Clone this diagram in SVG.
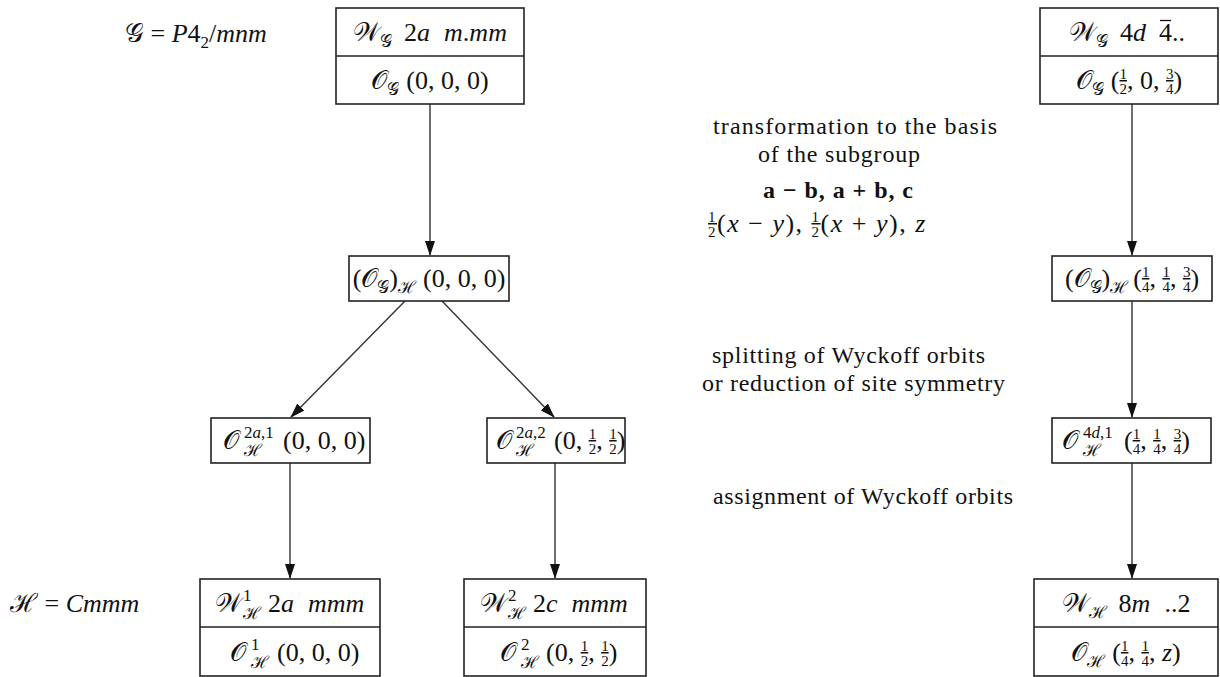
<svg xmlns="http://www.w3.org/2000/svg" width="1220" height="677" viewBox="0 0 1220 677">
<style>
.t { font-family: "Liberation Serif", "DejaVu Serif", serif; font-size: 26px; fill: #111; }
.d { font-size: 24px; }
.i { font-style: italic; }
.sb { font-size: 17px; }
.fn, .fd { font-size: 15px; }
.fn { text-decoration: underline; }
.b { font-weight: bold; }
.ls { letter-spacing: 1.5px; }
.box { fill: #fff; stroke: #222; stroke-width: 1.6; }
.dv { stroke: #222; stroke-width: 1.6; }
.bar { stroke: #111; stroke-width: 1.3; }
.c { stroke: #333; stroke-width: 1.4; fill: none; marker-end: url(#ah); }
</style>
<defs>
<marker id="ah" markerUnits="userSpaceOnUse" markerWidth="15" markerHeight="10" refX="14" refY="5" orient="auto">
<path d="M0,0 L15,5 L0,10 z" fill="#111"/>
</marker>
</defs>
<rect width="1220" height="677" fill="#fff"/>

<g id="connectors">
<line class="c" x1="430" y1="104" x2="430" y2="255"/>
<line class="c" x1="1132" y1="104" x2="1132" y2="255"/>
<line class="c" x1="405" y1="301" x2="291" y2="417"/>
<line class="c" x1="442" y1="301" x2="554" y2="417"/>
<line class="c" x1="1132" y1="301" x2="1132" y2="417"/>
<line class="c" x1="290" y1="463" x2="290" y2="578"/>
<line class="c" x1="555" y1="463" x2="555" y2="578"/>
<line class="c" x1="1132" y1="463" x2="1132" y2="578"/>
</g>

<g id="labels">
<text class="t" x="125" y="42">𝒢 = <tspan class="i">P</tspan>4<tspan class="sb" dy="6">2</tspan><tspan dy="-6">/</tspan><tspan class="i">mnm</tspan></text>
<text class="t" x="10" y="612">ℋ = <tspan class="i">Cmmm</tspan></text>
<text class="t d" x="713" y="134" textLength="284" lengthAdjust="spacing">transformation to the basis</text>
<text class="t d" x="758" y="162" textLength="162" lengthAdjust="spacing">of the subgroup</text>
<text class="t d b" x="763" y="198" textLength="150" lengthAdjust="spacing">a − b, a + b, c</text>
<text class="t ls" x="708" y="232"><tspan class="fn" dy="-10">1</tspan><tspan class="fd" dx="-9" dy="15">2</tspan><tspan dy="-5">(</tspan><tspan class="i">x</tspan> − <tspan class="i">y</tspan>), <tspan class="fn" dy="-10">1</tspan><tspan class="fd" dx="-9" dy="15">2</tspan><tspan dy="-5">(</tspan><tspan class="i">x</tspan> + <tspan class="i">y</tspan>), <tspan class="i">z</tspan></text>
<text class="t d" x="712" y="363" textLength="273" lengthAdjust="spacing">splitting of Wyckoff orbits</text>
<text class="t d" x="702" y="391" textLength="303" lengthAdjust="spacing">or reduction of site symmetry</text>
<text class="t d" x="713" y="504" textLength="300" lengthAdjust="spacing">assignment of Wyckoff orbits</text>
</g>

<g id="n1">
<rect class="box" x="336" y="8" width="188" height="96"/>
<line class="dv" x1="336" y1="56" x2="524" y2="56"/>
<text class="t" x="430" y="41" text-anchor="middle">𝒲<tspan class="sb" dy="6">𝒢</tspan><tspan dx="12" dy="-6">2</tspan><tspan class="i">a</tspan><tspan class="i" dx="14">m</tspan>.<tspan class="i">mm</tspan></text>
<text class="t" x="430" y="89" text-anchor="middle">𝒪<tspan class="sb" dy="6">𝒢</tspan><tspan dx="7" dy="-6">(0, 0, 0)</tspan></text>
</g>

<g id="n2">
<rect class="box" x="1040" y="8" width="178" height="96"/>
<line class="dv" x1="1040" y1="56" x2="1218" y2="56"/>
<text class="t" x="1146" y="41" text-anchor="end">𝒲<tspan class="sb" dy="6">𝒢</tspan><tspan dx="12" dy="-6">4</tspan><tspan class="i">d</tspan></text>
<text class="t" x="1159" y="41">4..</text>
<line class="bar" x1="1160" y1="20.5" x2="1171" y2="20.5"/>
<text class="t" x="1129" y="89" text-anchor="middle">𝒪<tspan class="sb" dy="6">𝒢</tspan><tspan dx="7" dy="-6">(</tspan><tspan class="fn" dy="-10">1</tspan><tspan class="fd" dx="-7.5" dy="15">2</tspan><tspan dy="-5">, 0, </tspan><tspan class="fn" dy="-10">3</tspan><tspan class="fd" dx="-7.5" dy="15">4</tspan><tspan dy="-5">)</tspan></text>
</g>

<g id="n3">
<rect class="box" x="349" y="256" width="160" height="45"/>
<text class="t" x="429" y="287" text-anchor="middle">(𝒪<tspan class="sb" dy="6">𝒢</tspan><tspan dy="-6">)</tspan><tspan class="sb" dy="6">ℋ</tspan><tspan dx="7" dy="-6">(0, 0, 0)</tspan></text>
</g>

<g id="n4">
<rect class="box" x="1052" y="256" width="160" height="45"/>
<text class="t" x="1132" y="287" text-anchor="middle">(𝒪<tspan class="sb" dy="6">𝒢</tspan><tspan dy="-6">)</tspan><tspan class="sb" dy="6">ℋ</tspan><tspan dx="5" dy="-6">(</tspan><tspan class="fn" dy="-10">1</tspan><tspan class="fd" dx="-7.5" dy="15">4</tspan><tspan dy="-5">, </tspan><tspan class="fn" dy="-10">1</tspan><tspan class="fd" dx="-7.5" dy="15">4</tspan><tspan dy="-5">, </tspan><tspan class="fn" dy="-10">3</tspan><tspan class="fd" dx="-7.5" dy="15">4</tspan><tspan dy="-5">)</tspan></text>
</g>

<g id="n5">
<rect class="box" x="211" y="418" width="159" height="45"/>
<text class="t" x="223" y="449">𝒪<tspan class="sb" x="244" y="438">2<tspan class="i">a</tspan>,1</tspan><tspan class="sb" x="244" y="456">ℋ</tspan><tspan x="283" y="449">(0, 0, 0)</tspan></text>
</g>

<g id="n6">
<rect class="box" x="487" y="418" width="138" height="45"/>
<text class="t" x="496" y="449">𝒪<tspan class="sb" x="516" y="438">2<tspan class="i">a</tspan>,2</tspan><tspan class="sb" x="516" y="456">ℋ</tspan><tspan x="554" y="449">(0, </tspan><tspan class="fn" dy="-10">1</tspan><tspan class="fd" dx="-7.5" dy="15">2</tspan><tspan dy="-5">, </tspan><tspan class="fn" dy="-10">1</tspan><tspan class="fd" dx="-7.5" dy="15">2</tspan><tspan dy="-5">)</tspan></text>
</g>

<g id="n7">
<rect class="box" x="1052" y="418" width="159" height="45"/>
<text class="t" x="1062" y="449">𝒪<tspan class="sb" x="1083" y="438">4<tspan class="i">d</tspan>,1</tspan><tspan class="sb" x="1083" y="456">ℋ</tspan><tspan x="1124" y="449">(</tspan><tspan class="fn" dy="-10">1</tspan><tspan class="fd" dx="-7.5" dy="15">4</tspan><tspan dy="-5">, </tspan><tspan class="fn" dy="-10">1</tspan><tspan class="fd" dx="-7.5" dy="15">4</tspan><tspan dy="-5">, </tspan><tspan class="fn" dy="-10">3</tspan><tspan class="fd" dx="-7.5" dy="15">4</tspan><tspan dy="-5">)</tspan></text>
</g>

<g id="n8">
<rect class="box" x="200" y="579" width="180" height="97"/>
<line class="dv" x1="200" y1="627" x2="380" y2="627"/>
<text class="t" x="215" y="612">𝒲<tspan class="sb" x="243" y="601">1</tspan><tspan class="sb" x="243" y="619">ℋ</tspan><tspan x="268" y="612">2</tspan><tspan class="i">a</tspan><tspan class="i" dx="14">mmm</tspan></text>
<text class="t" x="230" y="661">𝒪<tspan class="sb" x="251" y="650">1</tspan><tspan class="sb" x="251" y="668">ℋ</tspan><tspan x="277" y="661">(0, 0, 0)</tspan></text>
</g>

<g id="n9">
<rect class="box" x="464" y="579" width="182" height="97"/>
<line class="dv" x1="464" y1="627" x2="646" y2="627"/>
<text class="t" x="480" y="612">𝒲<tspan class="sb" x="508" y="601">2</tspan><tspan class="sb" x="508" y="619">ℋ</tspan><tspan x="533" y="612">2</tspan><tspan class="i">c</tspan><tspan class="i" dx="14">mmm</tspan></text>
<text class="t" x="500" y="661">𝒪<tspan class="sb" x="521" y="650">2</tspan><tspan class="sb" x="521" y="668">ℋ</tspan><tspan x="546" y="661">(0, </tspan><tspan class="fn" dy="-10">1</tspan><tspan class="fd" dx="-7.5" dy="15">2</tspan><tspan dy="-5">, </tspan><tspan class="fn" dy="-10">1</tspan><tspan class="fd" dx="-7.5" dy="15">2</tspan><tspan dy="-5">)</tspan></text>
</g>

<g id="n10">
<rect class="box" x="1034" y="579" width="184" height="97"/>
<line class="dv" x1="1034" y1="627" x2="1218" y2="627"/>
<text class="t" x="1126" y="612" text-anchor="middle">𝒲<tspan class="sb" dy="6">ℋ</tspan><tspan dx="12" dy="-6">8</tspan><tspan class="i">m</tspan><tspan dx="14">..2</tspan></text>
<text class="t" x="1126" y="661" text-anchor="middle">𝒪<tspan class="sb" dy="6">ℋ</tspan><tspan dx="7" dy="-6">(</tspan><tspan class="fn" dy="-10">1</tspan><tspan class="fd" dx="-7.5" dy="15">4</tspan><tspan dy="-5">, </tspan><tspan class="fn" dy="-10">1</tspan><tspan class="fd" dx="-7.5" dy="15">4</tspan><tspan dy="-5">, </tspan><tspan class="i">z</tspan>)</text>
</g>
</svg>
